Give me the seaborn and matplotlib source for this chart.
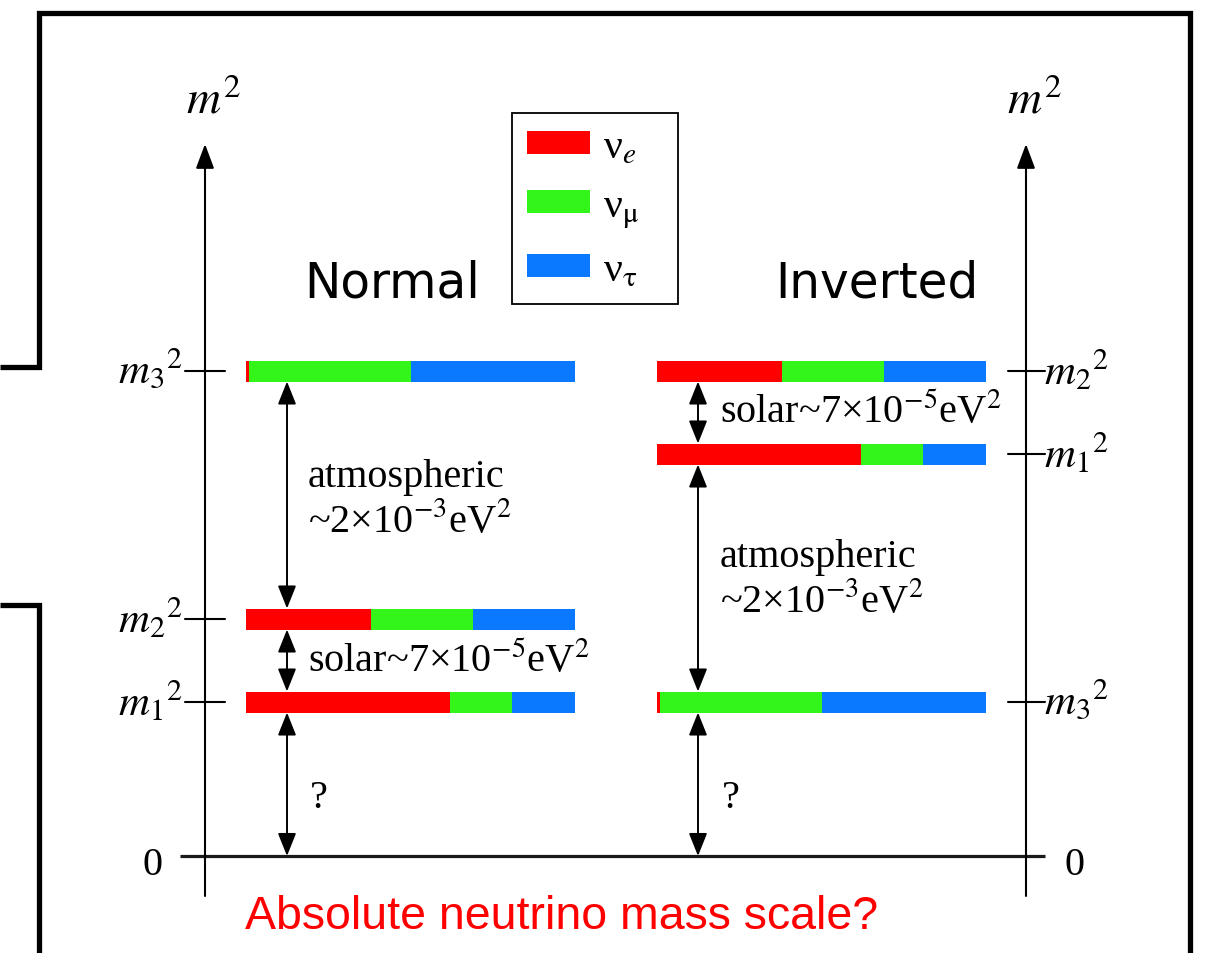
import matplotlib
matplotlib.use('Agg')
import matplotlib.pyplot as plt
import seaborn as sns
from matplotlib.patches import Patch

# ---------------- data ----------------
orderings = ['Normal', 'Inverted']
states = ['m1', 'm2', 'm3']
state_labels = [r'${m_1}^{2}$', r'${m_2}^{2}$', r'${m_3}^{2}$']
flavor_labels = ['ν$_{e}$', 'ν$_{\\mathrm{μ}}$', 'ν$_{\\mathrm{τ}}$']
flavor_colors = ['#ff0000', '#33f51a', '#0a78ff']
# flavour content of each mass state (m1, m2, m3)
frac_e = [0.62, 0.38, 0.01]
frac_mu = [0.19, 0.31, 0.49]
frac_tau = [0.19, 0.31, 0.50]
# schematic m^2 levels (arbitrary units, 0 = zero line)
level_normal = [154, 237, 485]
level_inverted = [402, 485, 154]
gap_labels = ['atmospheric\n~2×10$^{-3}$eV$^{2}$', 'solar~7×10$^{-5}$eV$^{2}$', '?']

# ---------------- style ----------------
sns.set_theme(style='white')
plt.rcParams['font.family'] = ['Liberation Serif', 'DejaVu Serif']
plt.rcParams['mathtext.fontset'] = 'stix'
plt.rcParams['text.color'] = 'black'

W, H = 1215, 954
ZERO = 857
fig = plt.figure(figsize=(W / 100, H / 100), dpi=100)
ax = fig.add_axes([0, 0, 1, 1])
ax.set_xlim(0, W)
ax.set_ylim(ZERO - H, ZERO)
ax.axis('off')


def Y(py):
    return ZERO - py


# slide frame lines
fr = dict(color='black', lw=3.8, solid_capstyle='butt', solid_joinstyle='miter')
ax.plot([0, 38.5, 38.5, 1190, 1190], [Y(367.5), Y(367.5), Y(13.5), Y(13.5), Y(960)], **fr)
ax.plot([0, 38.5, 38.5], [Y(605.5), Y(605.5), Y(960)], **fr)

# vertical m^2 axes with arrow heads
axis_x = [205, 1026]
for xa in axis_x:
    ax.annotate('', xy=(xa, Y(145)), xytext=(xa, Y(897)),
                arrowprops=dict(arrowstyle='-|>,head_length=0.75,head_width=0.28',
                                color='black', lw=1.5, shrinkA=0, shrinkB=0,
                                mutation_scale=20))
    ax.text(xa + 8, Y(102), r'$m^{2}$', fontsize=34, ha='center', va='center')

# zero line
ax.plot([180, 1045], [0, 0], color='#1a1a1a', lw=2.3, solid_capstyle='butt')
ax.text(152, Y(866), '0', fontsize=29, ha='center', va='center')
ax.text(1075, Y(866), '0', fontsize=29, ha='center', va='center')

# bars
BAR_W = 329
BAR_H = 21
bar_left = [246, 657]
levels_all = [level_normal, level_inverted]
for left0, levels in zip(bar_left, levels_all):
    cum = [left0] * 3
    for fr_list, col in zip([frac_e, frac_mu, frac_tau], flavor_colors):
        widths = [f * BAR_W for f in fr_list]
        ax.barh(levels, widths, left=cum, height=BAR_H, color=col, linewidth=0)
        cum = [c + w for c, w in zip(cum, widths)]

# tick marks and state labels
for lv, lab in zip(level_normal, state_labels):
    ax.plot([185, 225], [lv, lv], color='black', lw=1.5)
    ax.text(183, lv + 2, lab, fontsize=31, ha='right', va='center')
for lv, lab in zip(level_inverted, state_labels):
    ax.plot([1008, 1045], [lv, lv], color='black', lw=1.5)
    ax.text(1044, lv + 2, lab, fontsize=31, ha='left', va='center')


def darrow(x, y_top, y_bot):
    ax.annotate('', xy=(x, y_top), xytext=(x, y_bot),
                arrowprops=dict(arrowstyle='<|-|>,head_length=0.7,head_width=0.28',
                                color='black', lw=1.4, shrinkA=0, shrinkB=0,
                                mutation_scale=20))


hb = BAR_H / 2
# normal ordering arrows
xn = 287
darrow(xn, level_normal[2] - hb, level_normal[1] + hb)
darrow(xn, level_normal[1] - hb, level_normal[0] + hb)
darrow(xn, level_normal[0] - hb, 0)
# inverted ordering arrows
xi = 698
darrow(xi, level_inverted[1] - hb, level_inverted[0] + hb)
darrow(xi, level_inverted[0] - hb, level_inverted[2] + hb)
darrow(xi, level_inverted[2] - hb, 0)

FS = 29
ax.text(308, Y(487), gap_labels[0].split('\n')[0], fontsize=FS, va='baseline')
ax.text(308, Y(532), gap_labels[0].split('\n')[1], fontsize=FS, va='baseline')
ax.text(308, Y(672), gap_labels[1], fontsize=FS, va='baseline')
ax.text(310, Y(808), gap_labels[2], fontsize=FS, va='baseline')

ax.text(720, Y(423), gap_labels[1], fontsize=FS, va='baseline')
ax.text(720, Y(567), gap_labels[0].split('\n')[0], fontsize=FS, va='baseline')
ax.text(720, Y(612), gap_labels[0].split('\n')[1], fontsize=FS, va='baseline')
ax.text(722, Y(808), gap_labels[2], fontsize=FS, va='baseline')

# ordering titles
ax.text(392, Y(283), orderings[0], fontsize=35, ha='center', va='center',
        family=['DejaVu Sans'])
ax.text(877, Y(283), orderings[1], fontsize=35, ha='center', va='center',
        family=['DejaVu Sans'])

# legend
handles = [Patch(facecolor=c, edgecolor='none', label=l)
           for c, l in zip(flavor_colors, flavor_labels)]
leg = ax.legend(handles=handles, loc='upper left',
                bbox_to_anchor=(512, Y(115), 166, 1), bbox_transform=ax.transData,
                mode='expand',
                fontsize=30, frameon=True, fancybox=False, framealpha=1,
                edgecolor='black', handlelength=1.53, handleheight=0.48,
                labelspacing=0.5, borderpad=0.35, handletextpad=0.31,
                borderaxespad=0)
leg.get_frame().set_linewidth(1.3)

# bottom caption
ax.text(562, Y(917), 'Absolute neutrino mass scale?', fontsize=33.5, color='red',
        ha='center', va='center', family=['Liberation Sans', 'DejaVu Sans'])

fig.savefig('out.png', dpi=100)
